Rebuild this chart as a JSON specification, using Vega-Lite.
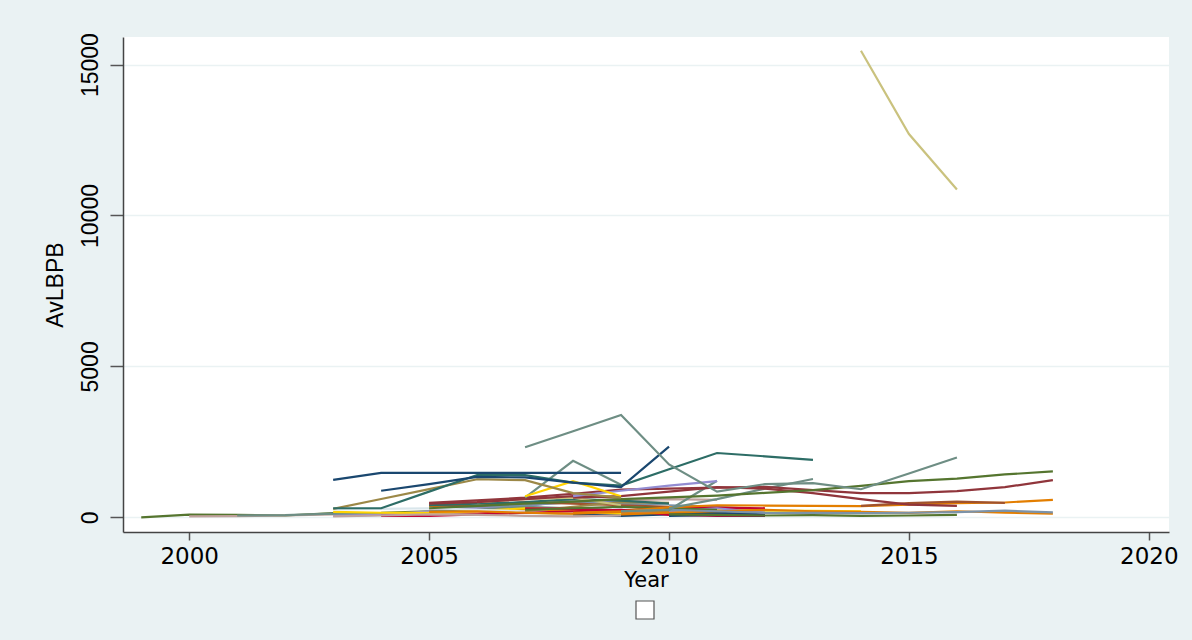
{
  "$schema": "https://vega.github.io/schema/vega-lite/v6.json",
  "width": 1046,
  "height": 495,
  "autosize": "none",
  "padding": {"left": 123, "top": 37, "right": 23, "bottom": 108},
  "background": "#EAF2F3",
  "config": {
    "view": {"fill": "#ffffff", "stroke": null},
    "legend": {"layout": {"bottom": {"anchor": "middle"}}}
  },
  "data": {"values": [
    {"id":"s34","year":1999,"v":0},{"id":"s34","year":2000,"v":90},{"id":"s34","year":2001,"v":80},{"id":"s34","year":2002,"v":60},{"id":"s34","year":2003,"v":140},{"id":"s34","year":2004,"v":150},{"id":"s34","year":2005,"v":200},
    {"id":"s35","year":2000,"v":30},{"id":"s35","year":2001,"v":40},{"id":"s35","year":2002,"v":60},{"id":"s35","year":2003,"v":100},
    {"id":"s36","year":2001,"v":60},{"id":"s36","year":2002,"v":70},{"id":"s36","year":2003,"v":120},{"id":"s36","year":2004,"v":100},
    {"id":"s20","year":2005,"v":150},{"id":"s20","year":2006,"v":120},{"id":"s20","year":2007,"v":200},{"id":"s20","year":2008,"v":250},{"id":"s20","year":2009,"v":180},{"id":"s20","year":2010,"v":150},{"id":"s20","year":2011,"v":130},{"id":"s20","year":2012,"v":100},
    {"id":"s21","year":2005,"v":350},{"id":"s21","year":2006,"v":300},{"id":"s21","year":2007,"v":250},{"id":"s21","year":2008,"v":200},{"id":"s21","year":2009,"v":300},{"id":"s21","year":2010,"v":250},{"id":"s21","year":2011,"v":200},{"id":"s21","year":2012,"v":200},
    {"id":"s22","year":2005,"v":250},{"id":"s22","year":2006,"v":300},{"id":"s22","year":2007,"v":400},{"id":"s22","year":2008,"v":500},{"id":"s22","year":2009,"v":550},{"id":"s22","year":2010,"v":600},{"id":"s22","year":2011,"v":580},
    {"id":"s23","year":2003,"v":50},{"id":"s23","year":2004,"v":80},{"id":"s23","year":2005,"v":200},{"id":"s23","year":2006,"v":300},{"id":"s23","year":2007,"v":350},{"id":"s23","year":2008,"v":600},{"id":"s23","year":2009,"v":500},{"id":"s23","year":2010,"v":300},{"id":"s23","year":2011,"v":250},{"id":"s23","year":2012,"v":200},
    {"id":"s24","year":2005,"v":300},{"id":"s24","year":2006,"v":350},{"id":"s24","year":2007,"v":400},{"id":"s24","year":2008,"v":500},{"id":"s24","year":2009,"v":450},{"id":"s24","year":2010,"v":400},{"id":"s24","year":2011,"v":350},{"id":"s24","year":2012,"v":250},
    {"id":"s25","year":2005,"v":200},{"id":"s25","year":2006,"v":250},{"id":"s25","year":2007,"v":350},{"id":"s25","year":2008,"v":300},{"id":"s25","year":2009,"v":250},{"id":"s25","year":2010,"v":250},{"id":"s25","year":2011,"v":200},
    {"id":"s26","year":2005,"v":100},{"id":"s26","year":2006,"v":100},{"id":"s26","year":2007,"v":150},{"id":"s26","year":2008,"v":100},{"id":"s26","year":2009,"v":100},{"id":"s26","year":2010,"v":120},{"id":"s26","year":2011,"v":100},{"id":"s26","year":2012,"v":80},
    {"id":"s27","year":2003,"v":180},{"id":"s27","year":2004,"v":150},{"id":"s27","year":2005,"v":150},{"id":"s27","year":2006,"v":200},{"id":"s27","year":2007,"v":300},{"id":"s27","year":2008,"v":250},{"id":"s27","year":2009,"v":100},{"id":"s27","year":2010,"v":200},{"id":"s27","year":2011,"v":250},{"id":"s27","year":2012,"v":220},{"id":"s27","year":2013,"v":210},{"id":"s27","year":2014,"v":200},
    {"id":"s28","year":2003,"v":260},{"id":"s28","year":2004,"v":280},{"id":"s28","year":2005,"v":300},{"id":"s28","year":2006,"v":250},{"id":"s28","year":2007,"v":200},{"id":"s28","year":2008,"v":150},{"id":"s28","year":2009,"v":300},{"id":"s28","year":2010,"v":400},
    {"id":"s29","year":2005,"v":400},{"id":"s29","year":2006,"v":380},{"id":"s29","year":2007,"v":500},{"id":"s29","year":2008,"v":450},{"id":"s29","year":2009,"v":400},{"id":"s29","year":2010,"v":350},
    {"id":"s30","year":2008,"v":100},{"id":"s30","year":2009,"v":50},{"id":"s30","year":2010,"v":100},{"id":"s30","year":2011,"v":150},{"id":"s30","year":2012,"v":100},
    {"id":"s31","year":2004,"v":50},{"id":"s31","year":2005,"v":50},{"id":"s31","year":2006,"v":100},{"id":"s31","year":2007,"v":150},{"id":"s31","year":2008,"v":200},{"id":"s31","year":2009,"v":250},{"id":"s31","year":2010,"v":80},{"id":"s31","year":2011,"v":50},{"id":"s31","year":2012,"v":50},
    {"id":"s32","year":2003,"v":30},{"id":"s32","year":2004,"v":60},{"id":"s32","year":2005,"v":100},{"id":"s32","year":2006,"v":80},{"id":"s32","year":2007,"v":50},{"id":"s32","year":2008,"v":30},{"id":"s32","year":2009,"v":60},
    {"id":"s33","year":2007,"v":200},{"id":"s33","year":2008,"v":350},{"id":"s33","year":2009,"v":500},{"id":"s33","year":2010,"v":480},
    {"id":"s37","year":2005,"v":400},{"id":"s37","year":2006,"v":450},{"id":"s37","year":2007,"v":500},{"id":"s37","year":2008,"v":600},{"id":"s37","year":2009,"v":550},{"id":"s37","year":2010,"v":450},
    {"id":"s38","year":2007,"v":300},{"id":"s38","year":2008,"v":280},{"id":"s38","year":2009,"v":220},{"id":"s38","year":2010,"v":300},{"id":"s38","year":2011,"v":320},{"id":"s38","year":2012,"v":300},
    {"id":"s39","year":2009,"v":150},{"id":"s39","year":2010,"v":200},{"id":"s39","year":2011,"v":300},{"id":"s39","year":2012,"v":150},
    {"id":"s40","year":2006,"v":500},{"id":"s40","year":2007,"v":600},{"id":"s40","year":2008,"v":650},{"id":"s40","year":2009,"v":400},
    {"id":"s41","year":2005,"v":450},{"id":"s41","year":2006,"v":500},{"id":"s41","year":2007,"v":600},{"id":"s41","year":2008,"v":700},{"id":"s41","year":2009,"v":650},
    {"id":"s42","year":2010,"v":50},{"id":"s42","year":2011,"v":80},{"id":"s42","year":2012,"v":60},
    {"id":"s43","year":2007,"v":250},{"id":"s43","year":2008,"v":300},{"id":"s43","year":2009,"v":350},{"id":"s43","year":2010,"v":300},{"id":"s43","year":2011,"v":250},
    {"id":"s44","year":2005,"v":180},{"id":"s44","year":2006,"v":200},{"id":"s44","year":2007,"v":150},{"id":"s44","year":2008,"v":120},{"id":"s44","year":2009,"v":180},{"id":"s44","year":2010,"v":200},
    {"id":"s13","year":2008,"v":150},{"id":"s13","year":2009,"v":200},{"id":"s13","year":2010,"v":330},{"id":"s13","year":2011,"v":400},{"id":"s13","year":2012,"v":390},{"id":"s13","year":2013,"v":380},{"id":"s13","year":2014,"v":370},{"id":"s13","year":2015,"v":420},{"id":"s13","year":2016,"v":470},{"id":"s13","year":2017,"v":490},{"id":"s13","year":2018,"v":580},
    {"id":"s14","year":2009,"v":100},{"id":"s14","year":2010,"v":150},{"id":"s14","year":2011,"v":200},{"id":"s14","year":2012,"v":250},{"id":"s14","year":2013,"v":200},{"id":"s14","year":2014,"v":180},{"id":"s14","year":2015,"v":150},{"id":"s14","year":2016,"v":200},{"id":"s14","year":2017,"v":150},{"id":"s14","year":2018,"v":120},
    {"id":"s15","year":2009,"v":200},{"id":"s15","year":2010,"v":250},{"id":"s15","year":2011,"v":200},{"id":"s15","year":2012,"v":150},{"id":"s15","year":2013,"v":150},{"id":"s15","year":2014,"v":140},{"id":"s15","year":2015,"v":150},{"id":"s15","year":2016,"v":170},{"id":"s15","year":2017,"v":220},{"id":"s15","year":2018,"v":160},
    {"id":"s16","year":2010,"v":100},{"id":"s16","year":2011,"v":80},{"id":"s16","year":2012,"v":60},{"id":"s16","year":2013,"v":70},{"id":"s16","year":2014,"v":50},{"id":"s16","year":2015,"v":60},{"id":"s16","year":2016,"v":80},
    {"id":"s17","year":2014,"v":380},{"id":"s17","year":2015,"v":470},{"id":"s17","year":2016,"v":520},{"id":"s17","year":2017,"v":480},
    {"id":"s18","year":2009,"v":200},{"id":"s18","year":2010,"v":240},{"id":"s18","year":2011,"v":1210},
    {"id":"s19","year":2010,"v":300},{"id":"s19","year":2011,"v":600},{"id":"s19","year":2012,"v":950},{"id":"s19","year":2013,"v":1270},
    {"id":"s12","year":2008,"v":650},{"id":"s12","year":2009,"v":700},{"id":"s12","year":2010,"v":850},{"id":"s12","year":2011,"v":1000},{"id":"s12","year":2012,"v":950},{"id":"s12","year":2013,"v":800},{"id":"s12","year":2014,"v":600},{"id":"s12","year":2015,"v":420},{"id":"s12","year":2016,"v":380},
    {"id":"s11","year":2005,"v":480},{"id":"s11","year":2006,"v":560},{"id":"s11","year":2007,"v":650},{"id":"s11","year":2008,"v":780},{"id":"s11","year":2009,"v":920},{"id":"s11","year":2010,"v":950},{"id":"s11","year":2011,"v":980},{"id":"s11","year":2012,"v":1010},{"id":"s11","year":2013,"v":900},{"id":"s11","year":2014,"v":800},{"id":"s11","year":2015,"v":800},{"id":"s11","year":2016,"v":870},{"id":"s11","year":2017,"v":1000},{"id":"s11","year":2018,"v":1230},
    {"id":"s10","year":2005,"v":300},{"id":"s10","year":2006,"v":380},{"id":"s10","year":2007,"v":450},{"id":"s10","year":2008,"v":520},{"id":"s10","year":2009,"v":600},{"id":"s10","year":2010,"v":660},{"id":"s10","year":2011,"v":720},{"id":"s10","year":2012,"v":810},{"id":"s10","year":2013,"v":900},{"id":"s10","year":2014,"v":1040},{"id":"s10","year":2015,"v":1200},{"id":"s10","year":2016,"v":1280},{"id":"s10","year":2017,"v":1420},{"id":"s10","year":2018,"v":1520},
    {"id":"s09","year":2008,"v":700},{"id":"s09","year":2009,"v":880},{"id":"s09","year":2010,"v":1050},{"id":"s09","year":2011,"v":1200},
    {"id":"s08","year":2007,"v":650},{"id":"s08","year":2008,"v":1870},{"id":"s08","year":2009,"v":1080},
    {"id":"s07","year":2007,"v":700},{"id":"s07","year":2008,"v":1200},{"id":"s07","year":2009,"v":700},
    {"id":"s06","year":2003,"v":280},{"id":"s06","year":2004,"v":607},{"id":"s06","year":2005,"v":933},{"id":"s06","year":2006,"v":1260},{"id":"s06","year":2007,"v":1230},{"id":"s06","year":2008,"v":800},{"id":"s06","year":2009,"v":650},
    {"id":"s05","year":2003,"v":300},{"id":"s05","year":2004,"v":300},{"id":"s05","year":2005,"v":850},{"id":"s05","year":2006,"v":1400},{"id":"s05","year":2007,"v":1400},{"id":"s05","year":2008,"v":1150},{"id":"s05","year":2009,"v":1050},{"id":"s05","year":2010,"v":1590},{"id":"s05","year":2011,"v":2130},{"id":"s05","year":2012,"v":2020},{"id":"s05","year":2013,"v":1900},
    {"id":"s04","year":2004,"v":880},{"id":"s04","year":2005,"v":1100},{"id":"s04","year":2006,"v":1340},{"id":"s04","year":2007,"v":1320},{"id":"s04","year":2008,"v":1150},{"id":"s04","year":2009,"v":1000},{"id":"s04","year":2010,"v":2340},
    {"id":"s03","year":2003,"v":1240},{"id":"s03","year":2004,"v":1470},{"id":"s03","year":2005,"v":1475},{"id":"s03","year":2006,"v":1475},{"id":"s03","year":2007,"v":1475},{"id":"s03","year":2008,"v":1475},{"id":"s03","year":2009,"v":1475},
    {"id":"s02","year":2007,"v":2320},{"id":"s02","year":2008,"v":2850},{"id":"s02","year":2009,"v":3390},{"id":"s02","year":2010,"v":1750},{"id":"s02","year":2011,"v":850},{"id":"s02","year":2012,"v":1100},{"id":"s02","year":2013,"v":1130},{"id":"s02","year":2014,"v":930},{"id":"s02","year":2015,"v":1450},{"id":"s02","year":2016,"v":1980},
    {"id":"s01","year":2014,"v":15460},{"id":"s01","year":2015,"v":12700},{"id":"s01","year":2016,"v":10860}
  ]},
  "layer": [
    {
      "mark": {"type": "line", "strokeWidth": 2.2, "clip": true},
      "encoding": {
        "x": {"field": "year", "type": "quantitative",
          "scale": {"domain": [1998.62, 2020.42], "nice": false, "zero": false},
          "axis": {"values": [2000, 2005, 2010, 2015, 2020], "format": "d", "grid": false, "title": "Year",
            "labelFont": "DejaVu Sans", "labelFontSize": 23, "labelColor": "#000000", "labelPadding": 5,
            "tickSize": 8, "tickColor": "#555555", "tickWidth": 1.5, "domainColor": "#444444", "domainWidth": 1.5,
            "titleFont": "DejaVu Sans", "titleFontSize": 21, "titleFontWeight": "normal", "titleColor": "#000000", "titlePadding": 1}},
        "y": {"field": "v", "type": "quantitative",
          "scale": {"domain": [-487, 15914], "nice": false, "zero": false},
          "axis": {"values": [0, 5000, 10000, 15000], "format": "d", "grid": true, "gridColor": "#EAF2F3", "gridWidth": 1.5, "title": "AvLBPB",
            "labelAngle": -90, "labelAlign": "center", "labelBaseline": "alphabetic",
            "labelFont": "Liberation Sans", "labelFontSize": 23, "labelColor": "#000000", "labelPadding": 13,
            "tickSize": 13, "tickColor": "#555555", "tickWidth": 1.5, "domainColor": "#444444", "domainWidth": 1.5,
            "titleFont": "Liberation Sans", "titleFontSize": 23, "titleFontWeight": "normal", "titleColor": "#000000", "titlePadding": 12}},
        "color": {"field": "id", "type": "nominal", "legend": null,
          "scale": {
            "domain": ["s01","s02","s03","s04","s05","s06","s07","s08","s09","s10","s11","s12","s13","s14","s15","s16","s17","s18","s19","s20","s21","s22","s23","s24","s25","s26","s27","s28","s29","s30","s31","s32","s33","s34","s35","s36","s37","s38","s39","s40","s41","s42","s43","s44"],
            "range": ["#cac27e","#6e8e84","#1a476f","#1a476f","#2d6d66","#9c8847","#ffd200","#6e8e84","#938dd2","#55752f","#90353b","#90353b","#e37e00","#e37e00","#7b92a8","#55752f","#a0522d","#6e8e84","#6e8e84","#c10534","#e37e00","#bfa19c","#938dd2","#7b92a8","#6e8e84","#cac27e","#ffd200","#d9e6eb","#a0522d","#1a476f","#c10534","#bfa19c","#9c8847","#55752f","#bfa19c","#6e8e84","#2d6d66","#c10534","#938dd2","#cac27e","#90353b","#1a476f","#55752f","#e37e00"]
          }},
        "detail": {"field": "id"}
      }
    },
    {
      "mark": {"type": "square", "opacity": 0},
      "encoding": {
        "x": {"field": "year", "type": "quantitative"},
        "y": {"field": "v", "type": "quantitative"},
        "fill": {"datum": " ", "scale": {"range": ["#ffffff"]},
          "legend": {"title": null, "orient": "bottom", "direction": "horizontal", "symbolType": "square", "symbolSize": 324,
            "symbolFillColor": "#ffffff", "symbolStrokeColor": "#555555", "symbolStrokeWidth": 1.2, "symbolOpacity": 1,
            "labelFontSize": 2, "labelOffset": 0, "offset": 10}}
      }
    }
  ]
}
